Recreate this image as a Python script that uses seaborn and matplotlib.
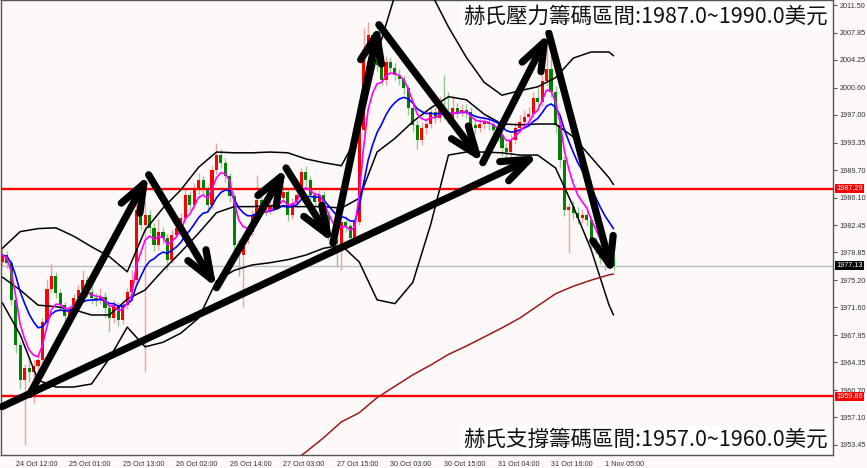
import numpy as np
import pandas as pd
import matplotlib
matplotlib.use('Agg')
import matplotlib.pyplot as plt
import seaborn as sns

# H1 gold bars, 24 Oct 09:00 -> 1 Nov 07:00
first_open = 1977.6
closes = [1978.5, 1977.5, 1972.6, 1966.6, 1962.0, 1963.6, 1963.1, 1963.9, 1964.7, 1969.7,
          1974.0, 1975.7, 1973.5, 1971.9, 1970.5, 1971.3, 1972.9, 1973.9, 1975.2, 1973.6,
          1972.9, 1972.6, 1973.0, 1971.5, 1970.2, 1971.9, 1969.9, 1971.9, 1973.6, 1975.2,
          1984.5, 1982.5, 1983.8, 1982.1, 1979.8, 1981.5, 1980.8, 1977.9, 1981.2, 1982.1,
          1983.4, 1986.4, 1985.1, 1987.1, 1988.4, 1987.1, 1985.1, 1989.7, 1991.7, 1990.7,
          1988.9, 1986.3, 1979.8, 1978.5, 1980.5, 1981.5, 1983.8, 1985.8, 1984.7, 1984.5,
          1985.1, 1985.4, 1986.0, 1986.8, 1983.8, 1985.4, 1986.4, 1989.5, 1988.4, 1986.4,
          1985.5, 1986.4, 1983.8, 1981.2, 1980.5, 1980.0, 1982.9, 1982.3, 1980.8, 1982.9,
          1995.0, 2005.6, 2007.5, 2004.2, 2003.6, 2001.6, 2004.0, 2003.2, 2002.3, 2001.7,
          2000.5, 1997.9, 1995.7, 1993.7, 1995.3, 1995.8, 1997.4, 1996.6, 1997.6, 1997.4,
          1996.6, 1997.9, 1997.4, 1997.6, 1997.4, 1995.7, 1995.3, 1995.8, 1996.1, 1995.8,
          1995.0, 1994.4, 1992.6, 1992.1, 1993.7, 1995.3, 1996.1, 1996.7, 1997.1, 1999.2,
          1998.7, 2001.5, 2003.0, 2000.0, 1995.7, 1991.0, 1984.5, 1984.9, 1984.1, 1983.4,
          1983.8, 1983.1, 1980.2, 1979.4, 1978.1, 1977.6, 1978.0, 1977.1]
highs = [1979.4, 1979.0, 1977.9, 1973.0, 1967.0, 1964.2, 1965.0, 1964.6, 1965.5, 1970.2,
         1975.3, 1977.4, 1976.3, 1974.0, 1972.3, 1971.9, 1973.4, 1974.6, 1976.6, 1975.8,
         1974.5, 1973.5, 1974.2, 1973.6, 1972.0, 1972.6, 1972.3, 1972.5, 1974.2, 1976.6,
         1985.9, 1985.3, 1985.7, 1984.5, 1982.7, 1983.3, 1982.2, 1981.3, 1981.8, 1982.9,
         1984.0, 1987.4, 1987.0, 1988.0, 1989.3, 1989.0, 1987.6, 1990.3, 1993.3, 1992.5,
         1991.3, 1989.4, 1986.8, 1980.6, 1981.1, 1982.4, 1984.5, 1989.1, 1986.5, 1985.6,
         1985.9, 1986.1, 1987.0, 1987.7, 1987.3, 1986.0, 1987.2, 1990.0, 1990.3, 1989.0,
         1987.0, 1987.1, 1986.9, 1984.3, 1982.0, 1981.2, 1983.5, 1983.6, 1982.8, 1983.4,
         1995.6, 2008.4, 2009.3, 2008.0, 2005.0, 2004.3, 2004.8, 2004.6, 2003.8, 2003.0,
         2002.2, 2001.0, 1998.5, 1996.3, 1996.0, 1996.6, 1998.2, 1998.0, 1999.5, 2002.3,
         2000.0, 1999.6, 1998.6, 1998.4, 1998.5, 1998.0, 1996.4, 1996.6, 1996.9, 1996.8,
         1996.4, 1995.6, 1995.0, 1993.3, 1994.5, 1996.0, 1997.0, 1997.6, 1998.0, 2000.0,
         2000.5, 2002.8, 2007.8, 2005.0, 2000.8, 1996.3, 1991.6, 1985.4, 1985.6, 1984.8,
         1984.6, 1984.4, 1983.6, 1980.9, 1980.0, 1978.8, 1978.6, 1978.5]
lows = [1977.0, 1976.8, 1971.9, 1965.6, 1960.9, 1953.5, 1961.8, 1959.0, 1963.0, 1964.2,
        1969.4, 1973.6, 1972.9, 1971.2, 1969.8, 1970.0, 1970.9, 1972.4, 1973.5, 1973.0,
        1972.0, 1971.8, 1972.1, 1970.2, 1968.3, 1969.6, 1969.2, 1969.4, 1971.4, 1973.1,
        1974.8, 1981.8, 1963.1, 1981.4, 1979.0, 1979.2, 1980.0, 1976.5, 1977.4, 1980.7,
        1981.6, 1982.9, 1984.4, 1984.6, 1986.6, 1986.4, 1984.2, 1984.6, 1989.2, 1990.0,
        1988.2, 1985.5, 1978.2, 1975.8, 1971.7, 1980.0, 1981.0, 1983.3, 1983.9, 1983.6,
        1983.9, 1984.5, 1984.9, 1985.5, 1983.0, 1983.3, 1984.9, 1986.0, 1987.6, 1985.8,
        1984.8, 1985.0, 1983.1, 1980.5, 1979.3, 1976.9, 1976.5, 1981.5, 1980.0, 1980.3,
        1982.5, 1994.6, 2005.0, 2003.4, 2002.8, 2000.9, 2001.0, 2002.5, 2001.6, 2000.9,
        1999.7, 1997.0, 1994.8, 1992.5, 1993.0, 1994.5, 1995.3, 1995.9, 1996.0, 1996.4,
        1995.8, 1996.1, 1996.6, 1996.8, 1996.6, 1994.9, 1994.5, 1994.7, 1995.2, 1995.0,
        1994.2, 1993.5, 1991.6, 1990.9, 1991.5, 1993.2, 1994.8, 1995.6, 1996.1, 1996.6,
        1997.9, 1998.2, 2000.8, 1999.3, 1994.6, 1990.0, 1983.6, 1978.8, 1983.3, 1982.6,
        1982.8, 1982.3, 1979.5, 1978.6, 1977.3, 1976.6, 1976.9, 1976.6]

# Bollinger bands, sampled every 4 bars
band_bars = list(range(0, 137, 4)) + [137]
bb_upper = [1979.4, 1981.6, 1982.0, 1982.1, 1981.0, 1979.6, 1978.3, 1976.3, 1981.8, 1984.7,
            1987.1, 1990.1, 1992.1, 1992.0, 1992.0, 1992.1, 1992.0, 1991.2, 1990.7, 1990.3,
            1994.6, 2005.0, 2012.8, 2015.5, 2013.2, 2008.6, 2004.6, 2001.3, 1999.6, 2000.2,
            2000.7, 2001.9, 2004.5, 2005.3, 2005.3, 2004.8]
bb_mid = [1975.6, 1973.9, 1971.9, 1971.7, 1971.3, 1970.6, 1970.6, 1972.7, 1973.9, 1976.5,
          1978.9, 1981.4, 1984.1, 1984.9, 1984.9, 1985.0, 1984.9, 1984.9, 1984.9, 1984.7,
          1986.0, 1992.1, 1993.9, 1996.1, 1997.9, 1999.4, 1999.0, 1997.1, 1995.8, 1995.7,
          1995.8, 1995.8, 1994.1, 1991.4, 1988.7, 1987.8]
bb_lower = [1972.2, 1968.0, 1962.0, 1961.1, 1961.1, 1961.5, 1964.9, 1969.0, 1966.4, 1967.0,
            1968.2, 1970.2, 1975.1, 1976.5, 1977.2, 1977.5, 1977.9, 1978.5, 1979.4, 1979.8,
            1977.6, 1972.6, 1972.1, 1974.9, 1982.5, 1991.7, 1992.1, 1992.1, 1992.0, 1991.7,
            1991.7, 1990.0, 1984.9, 1979.2, 1971.9, 1970.6]

# long moving average (dark red)
ma_long_bars = list(range(64, 137, 4)) + [137]
ma_long = [1950.8, 1952.5, 1954.4, 1956.5, 1957.7, 1959.7, 1961.2, 1962.7, 1964.0, 1965.4,
           1966.5, 1967.7, 1968.9, 1970.2, 1971.8, 1973.4, 1974.4, 1975.2, 1975.9, 1976.0]

tick_bars = [3, 15, 27, 39, 51, 63, 75, 87, 99, 111, 123, 135]
tick_labels = ['24 Oct 12:00', '25 Oct 01:00', '25 Oct 13:00', '26 Oct 02:00', '26 Oct 14:00',
               '27 Oct 03:00', '27 Oct 15:00', '30 Oct 03:00', '30 Oct 15:00', '31 Oct 04:00',
               '31 Oct 16:00', '1 Nov 05:00']
price_ticks = [2011.50, 2007.85, 2004.25, 2000.60, 1997.00, 1993.35, 1989.70, 1986.10, 1982.45,
               1978.85, 1975.20, 1971.60, 1967.95, 1964.35, 1960.70, 1957.10, 1953.45]

resist_level = 1987.29
support_level = 1959.86
last_price = 1977.13

# hand-drawn arrows (bar, price) -> (bar, price)
trend_arrow = ((-0.1, 1958.5), (120.2, 1991.7))
zigzag = [(6.1, 1960.1), (32.8, 1989.1), (48.0, 1974.2), (63.6, 1990.0), (74.1, 1980.1),
          (84.4, 2008.9), (107.7, 1990.7), (122.5, 2007.8), (136.8, 1975.9)]

resist_text = '赫氏壓力籌碼區間:1987.0~1990.0美元'
support_text = '赫氏支撐籌碼區間:1957.0~1960.0美元'

df = pd.DataFrame({'bar': np.arange(len(closes)), 'close': closes, 'high': highs, 'low': lows})
df['open'] = [first_open] + closes[:-1]
df['ma_fast'] = df['close'].ewm(span=5, adjust=False).mean()
df['ma_slow'] = df['close'].ewm(span=12, adjust=False).mean()
df['up'] = df['close'] >= df['open']

sns.set_style('white')
plt.rcParams['font.family'] = ['Noto Sans CJK TC', 'DejaVu Sans']

bg = '#FDF9F8'
fig = plt.figure(figsize=(8.67, 4.68), dpi=100)
fig.patch.set_facecolor(bg)
ax = fig.add_axes([1 / 867, 13 / 468, 832 / 867, 455 / 468])
ax.set_facecolor(bg)

# candles
for is_up, body_c, wick_c in [(True, '#FF0000', '#F5A0A0'), (False, '#008000', '#90C890')]:
    d = df[df['up'] == is_up]
    ax.vlines(d['bar'], d['low'], d['high'], color=wick_c, lw=1, zorder=2)
    ax.bar(d['bar'], (d['close'] - d['open']).abs().clip(lower=0.15),
           bottom=d[['open', 'close']].min(axis=1), width=0.7, color=body_c,
           linewidth=0, zorder=3)

# horizontal levels
ax.axhline(last_price, color='#B4BCCC', lw=1, zorder=1)
ax.axhline(resist_level, color='#FF0000', lw=1.7, zorder=4)
ax.axhline(support_level, color='#FF0000', lw=1.7, zorder=4)

# indicators
for vals in (bb_upper, bb_mid, bb_lower):
    sns.lineplot(x=band_bars, y=vals, ax=ax, color='black', lw=1.1, zorder=4)
sns.lineplot(x=ma_long_bars, y=ma_long, ax=ax, color='#9E1A1A', lw=1.1, zorder=4)
sns.lineplot(data=df, x='bar', y='ma_slow', ax=ax, color='#0000FF', lw=1.2, zorder=5)
sns.lineplot(data=df, x='bar', y='ma_fast', ax=ax, color='#FF00FF', lw=1.2, zorder=5)

# arrows
arrow_kw = dict(arrowstyle='->,head_length=1.0,head_width=0.38', lw=5.2, color='black',
                shrinkA=0, shrinkB=0, mutation_scale=20)
segments = [trend_arrow] + list(zip(zigzag[:-1], zigzag[1:]))
for start, end in segments:
    ax.annotate('', xy=end, xytext=start, arrowprops=arrow_kw, zorder=7)

ax.set_xlim(-0.3, 186.2)
ax.set_ylim(1952.13, 2012.16)

tick_font = dict(family='Liberation Sans', fontsize=5.2, color='#333333')
ax.yaxis.tick_right()
ax.set_yticks(price_ticks)
ax.set_yticklabels([f'{v:.2f}' for v in price_ticks], **tick_font)
ax.set_xticks(tick_bars)
ax.set_xticklabels(tick_labels, ha='left', **tick_font)
ax.tick_params(axis='both', length=3, width=0.8, color='#555555', pad=1.5, direction='out')
ax.set_xlabel('')
ax.set_ylabel('')
for s in ax.spines.values():
    s.set_color('#555555')
    s.set_linewidth(1)

# current price tags on the price scale
for level, colour in [(resist_level, '#FF0000'), (last_price, '#000000'), (support_level, '#FF0000')]:
    ax.text(1.004, level, f'{level:.2f}', transform=ax.get_yaxis_transform(), ha='left',
            va='center', color='white', family='Liberation Sans', fontsize=5.2, clip_on=False,
            bbox=dict(facecolor=colour, edgecolor='none', pad=0.8), zorder=8)

box = dict(facecolor='white', edgecolor='none', pad=1.5)
ax.text(0.994, 0.988, resist_text, transform=ax.transAxes, ha='right', va='top',
        fontsize=15.5, color='#111111', bbox=box, zorder=9)
ax.text(0.994, 0.01, support_text, transform=ax.transAxes, ha='right', va='bottom',
        fontsize=15.5, color='#111111', bbox=box, zorder=9)

fig.savefig('out.png', dpi=100, facecolor=fig.get_facecolor())
